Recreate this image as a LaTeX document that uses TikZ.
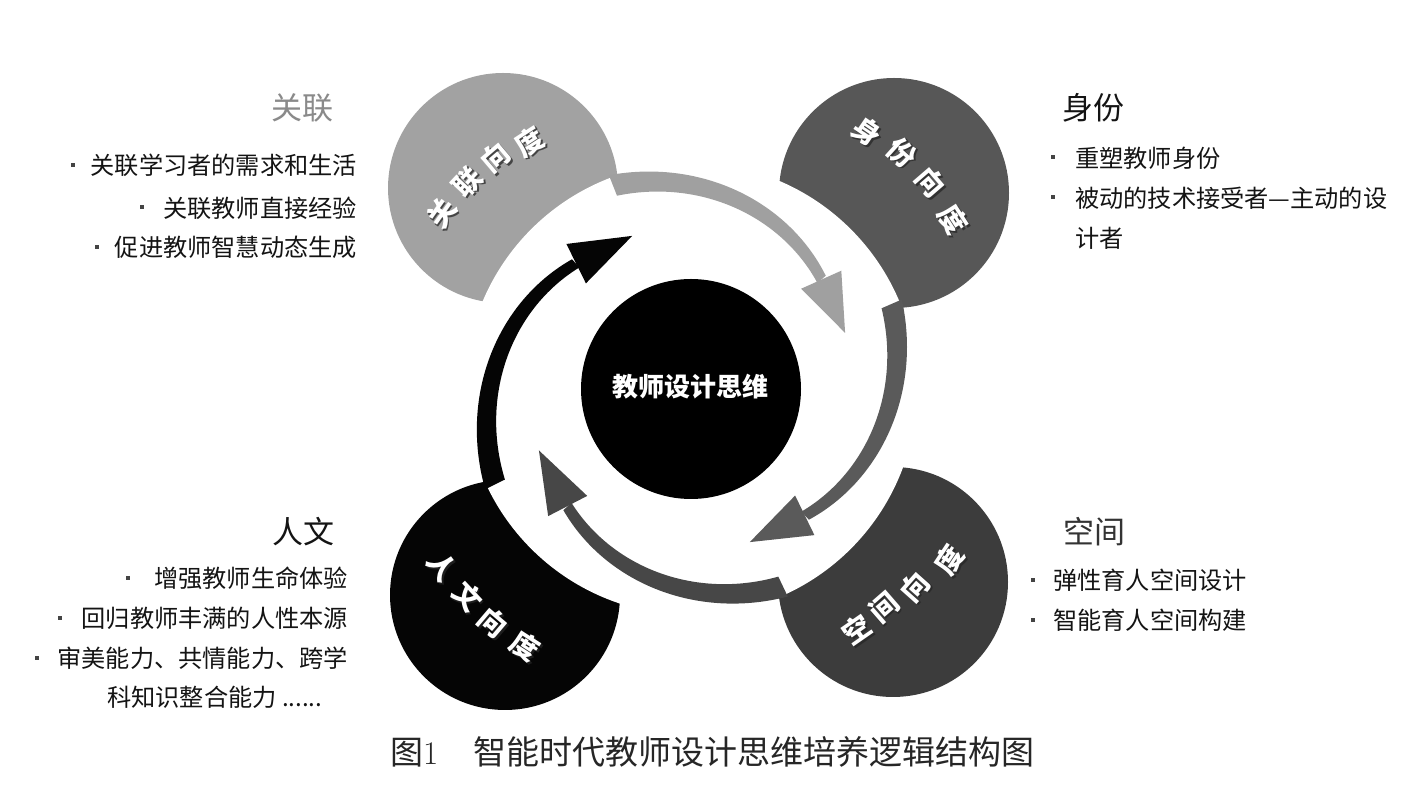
\documentclass[tikz,border=0pt]{standalone}
\usepackage{fontspec}
\newfontfamily\cjk{Noto Sans CJK SC}
\usetikzlibrary{calc}

\definecolor{petalA}{HTML}{A2A2A2}
\definecolor{petalB}{HTML}{575757}
\definecolor{petalC}{HTML}{3C3C3C}
\definecolor{petalD}{HTML}{050505}
\definecolor{arrowA}{HTML}{A0A0A0}
\definecolor{arrowB}{HTML}{5A5A5A}
\definecolor{arrowC}{HTML}{474747}
\definecolor{bulletgray}{HTML}{444444}
\definecolor{titlegray}{HTML}{8A8A8A}

% #1 colour, #2 start angle, #3 base angle, #4 tip angle, #5 name prefix
\newcommand{\spiralarrow}[5]{%
  \fill[#1] plot[domain=0:1, samples=60]
      ({691+(229-53*\x)*cos((#2)+((#3)-(#2))*\x)}, {403+(229-53*\x)*sin((#2)+((#3)-(#2))*\x)})
    -- plot[domain=0:1, samples=60]
      ({691+(165+42*\x)*cos((#3)+((#2)-(#3))*\x)}, {403+(165+42*\x)*sin((#3)+((#2)-(#3))*\x)})
    -- cycle;
  \coordinate (#5base) at ($(ctr)+(#3:170)$);
  \coordinate (#5tip) at ($(ctr)+(#4:164)$);
  \fill[#1] ($(#5base)!22pt!90:(#5tip)$) -- (#5tip) -- ($(#5base)!22pt!-90:(#5tip)$) -- cycle;
}

% #1 name, #2 x, #3 y, #4 rotation, #5 character
\newcommand{\petalchar}[5]{%
  \node[pshadow, rotate=#4] (#1s) at (#2+1.8,#3-1.8) {#5};
  \node[pchar, rotate=#4] (#1) at (#2,#3) {#5};
}

\begin{document}
\begin{tikzpicture}[x=1pt,y=1pt,
  petal/.style={circle, inner sep=0, minimum size=230pt},
  pchar/.style={inner sep=0, text=white, font=\cjk\bfseries\fontsize{28}{28}\selectfont, text height=23.5pt, text depth=3.3pt},
  pshadow/.style={pchar, text=black!85, opacity=0.75},
  listtext/.style={inner sep=0, font=\cjk\fontsize{24.2}{24.2}\selectfont, text=black!92, text height=20.6pt, text depth=2.4pt},
  titletext/.style={inner sep=0, font=\cjk\fontsize{31}{31}\selectfont, text height=26.4pt, text depth=3pt},
  bul/.style={rectangle, fill=bulletgray, inner sep=0, minimum size=4.5pt},
]
\fill[white] (0,0) rectangle (1422,792);
\useasboundingbox (0,0) rectangle (1422,792);

\coordinate (ctr) at (691,403);

% petals
\node[petal, fill=petalA] (guanlian) at (503,604) {};
\node[petal, fill=petalB] (shenfen) at (894,599) {};
\node[petal, fill=petalD] (renwen) at (505,197) {};
\node[petal, fill=petalC] (kongjian) at (893,210) {};

% white gap
\node[circle, fill=white, inner sep=0, minimum size=452pt] (gap) at (ctr) {};

% spiral arrows
\spiralarrow{arrowA}{111}{40}{20}{A}
\spiralarrow{arrowB}{23}{-48}{-69}{B}
\spiralarrow{arrowC}{-65}{-136.5}{-158}{C}
\spiralarrow{petalD}{206}{132.5}{111}{D}

% centre
\node[circle, fill=black, inner sep=0, minimum size=220pt] (core) at (ctr) {};
\node[inner sep=0, text=white, font=\cjk\bfseries\fontsize{26}{26}\selectfont, text height=22pt, text depth=3pt] (coretext) at (690,405) {教师设计思维};

% petal labels
\petalchar{ga1}{442}{579}{54.7}{关}
\petalchar{ga2}{468}{610}{47}{联}
\petalchar{ga3}{496}{634}{40.3}{向}
\petalchar{ga4}{530}{650}{33}{度}

\petalchar{sf1}{867}{660}{-34.4}{身}
\petalchar{sf2}{902}{639}{-42}{份}
\petalchar{sf3}{930}{609}{-49.2}{向}
\petalchar{sf4}{953}{572}{-57.2}{度}

\petalchar{rw1}{442}{225}{-54.4}{人}
\petalchar{rw2}{467}{195}{-47.1}{文}
\petalchar{rw3}{493}{169}{-40.4}{向}
\petalchar{rw4}{525}{145}{-32.8}{度}

\petalchar{kj1}{857}{162}{34.8}{空}
\petalchar{kj2}{884}{184}{41}{间}
\petalchar{kj3}{915}{205}{48.3}{向}
\petalchar{kj4}{950}{232}{56.6}{度}

% left top: 关联
\node[titletext, text=titlegray, anchor=east] (tGL) at (334,684) {关联};
\node[listtext, anchor=east] (gl1) at (357,627) {关联学习者的需求和生活};
\node[listtext, anchor=east] (gl2) at (357,584) {关联教师直接经验};
\node[listtext, anchor=east] (gl3) at (357,545) {促进教师智慧动态生成};
\node[bul] (bgl1) at (73,627) {};
\node[bul] (bgl2) at (142,585) {};
\node[bul] (bgl3) at (97,545) {};

% right top: 身份
\node[titletext, text=black!92, anchor=west] (tSF) at (1062,684) {身份};
\node[listtext, anchor=west] (sf1t) at (1075,634) {重塑教师身份};
\node[listtext, anchor=west] (sf2t) at (1075,594) {被动的技术接受者—主动的设};
\node[listtext, anchor=west] (sf3t) at (1075,554) {计者};
\node[bul] (bsf1) at (1053,635) {};
\node[bul] (bsf2) at (1053,595) {};

% left bottom: 人文
\node[titletext, text=black!92, anchor=east] (tRW) at (335,260) {人文};
\node[listtext, anchor=east] (rw1t) at (348,214) {增强教师生命体验};
\node[listtext, anchor=east] (rw2t) at (348,174) {回归教师丰满的人性本源};
\node[listtext, anchor=east] (rw3t) at (348,134) {审美能力、共情能力、跨学};
\node[listtext, anchor=west] (rw4t) at (107,95) {科知识整合能力 ......};
\node[bul] (brw1) at (128,214) {};
\node[bul] (brw2) at (60,174) {};
\node[bul] (brw3) at (37,134) {};

% right bottom: 空间
\node[titletext, text=black!80, anchor=west] (tKJ) at (1063,260) {空间};
\node[listtext, anchor=west] (kj1t) at (1053,212) {弹性育人空间设计};
\node[listtext, anchor=west] (kj2t) at (1053,172) {智能育人空间构建};
\node[bul] (bkj1) at (1033,212) {};
\node[bul] (bkj2) at (1033,172) {};

% caption
\node[inner sep=0, anchor=west, text=black!85, font=\cjk\fontsize{33}{33}\selectfont, text height=28pt, text depth=3.2pt] (caption) at (390,40) {图{\rmfamily 1}\hspace{35pt}智能时代教师设计思维培养逻辑结构图};
\end{tikzpicture}
\end{document}
